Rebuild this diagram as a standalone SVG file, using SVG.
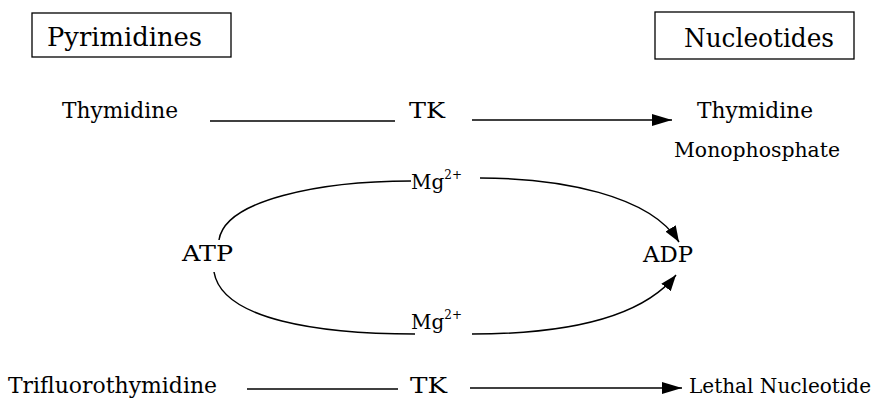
<svg xmlns="http://www.w3.org/2000/svg" width="885" height="404" viewBox="0 0 885 404">
<style>
text{font-family:"DejaVu Serif","Liberation Serif",serif;fill:#000}
.hdr{font-size:26px}
.lbl{font-size:22px}
.sm{font-size:20px}
.sup{font-size:12px}
.box{fill:none;stroke:#000;stroke-width:1.3}
.ln{fill:none;stroke:#000;stroke-width:1.5}
</style>
<defs>
<marker id="ah" viewBox="0 0 20 12" refX="20" refY="6" markerWidth="20" markerHeight="12" markerUnits="userSpaceOnUse" orient="auto">
<path d="M0,0 L20,6 L0,12 Z" fill="#000"/>
</marker>
<marker id="ah2" viewBox="0 0 16 12" refX="16" refY="6" markerWidth="16" markerHeight="12" markerUnits="userSpaceOnUse" orient="auto">
<path d="M0,0 L16,6 L0,12 Z" fill="#000"/>
</marker>
</defs>
<g id="pyrimidines">
<rect class="box" x="32" y="13" width="199" height="44"/>
<text class="hdr" x="47" y="46" textLength="155" lengthAdjust="spacingAndGlyphs">Pyrimidines</text>
</g>
<g id="nucleotides">
<rect class="box" x="655" y="12" width="199" height="47"/>
<text class="hdr" x="684" y="47" textLength="150" lengthAdjust="spacingAndGlyphs">Nucleotides</text>
</g>
<g id="thymidine">
<text class="lbl" x="62" y="118" textLength="116" lengthAdjust="spacingAndGlyphs">Thymidine</text>
</g>
<g id="tk1">
<text class="lbl" x="409" y="118" textLength="36" lengthAdjust="spacingAndGlyphs">TK</text>
</g>
<g id="tmp">
<text class="lbl" x="697" y="118" textLength="116" lengthAdjust="spacingAndGlyphs">Thymidine</text>
<text class="sm" x="674" y="157" textLength="166" lengthAdjust="spacingAndGlyphs">Monophosphate</text>
</g>
<g id="mg1">
<text class="sm" x="411" y="189">Mg<tspan class="sup" dy="-10">2+</tspan></text>
</g>
<g id="atp">
<text class="lbl" x="182" y="261" textLength="51" lengthAdjust="spacingAndGlyphs">ATP</text>
</g>
<g id="adp">
<text class="lbl" x="643" y="262" textLength="50" lengthAdjust="spacingAndGlyphs">ADP</text>
</g>
<g id="mg2">
<text class="sm" x="411" y="329">Mg<tspan class="sup" dy="-10">2+</tspan></text>
</g>
<g id="tft">
<text class="lbl" x="8" y="393" textLength="209" lengthAdjust="spacingAndGlyphs">Trifluorothymidine</text>
</g>
<g id="tk2">
<text class="lbl" x="410" y="393" textLength="37" lengthAdjust="spacingAndGlyphs">TK</text>
</g>
<g id="lethal">
<text x="689" y="393" font-size="20.5" textLength="182" lengthAdjust="spacingAndGlyphs">Lethal Nucleotide</text>
</g>
<g id="connectors">
<line class="ln" x1="210" y1="121" x2="395" y2="121"/>
<line class="ln" x1="472" y1="120" x2="672" y2="120" marker-end="url(#ah)"/>
<path class="ln" d="M219,240 C225,200 320,181 411,181"/>
<path class="ln" d="M480,178 C560,178 650,195 679,242" marker-end="url(#ah2)"/>
<path class="ln" d="M214,272 C222,320 320,334 415,334"/>
<path class="ln" d="M472,334 C560,334 640,320 676,275" marker-end="url(#ah2)"/>
<line class="ln" x1="247" y1="389" x2="398" y2="389"/>
<line class="ln" x1="470" y1="388" x2="682" y2="388" marker-end="url(#ah)"/>
</g>
</svg>
